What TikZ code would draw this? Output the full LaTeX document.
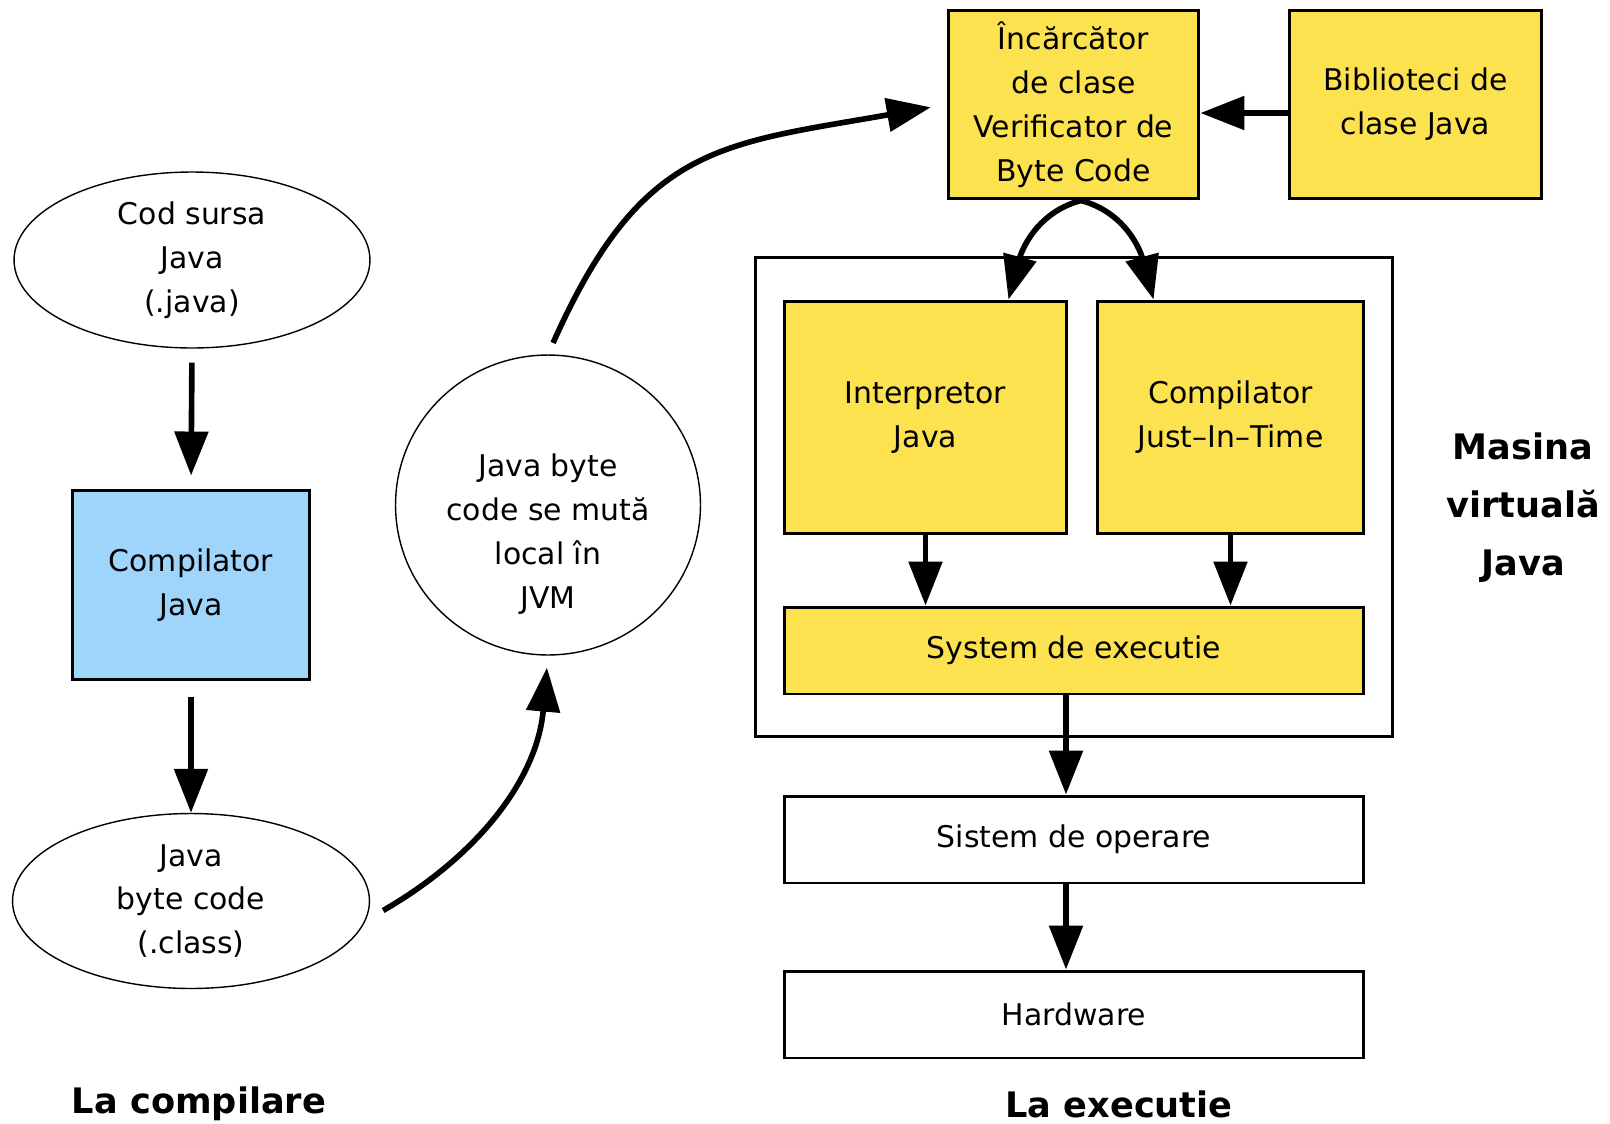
\documentclass[tikz,border=0pt]{standalone}
\usepackage{fontspec}
\setmainfont{DejaVu Sans}
\usetikzlibrary{shapes.geometric,arrows.meta}

\definecolor{vmyellow}{RGB}{253,226,79}
\definecolor{compblue}{RGB}{160,213,251}

\begin{document}
\begin{tikzpicture}[x=0.02cm,y=-0.02cm,font=\fontsize{17}{25}\selectfont]
	\tikzstyle{source file}=[ellipse,draw,line width=0.8pt,inner sep=0pt,align=center]
	\tikzstyle{block}=[rectangle,draw,line width=1.7pt,inner sep=0pt,align=center]
	\tikzstyle{vm block}=[block,fill=vmyellow]
	\tikzstyle{layer}=[block,minimum width=11.6cm,minimum height=1.74cm]
	\tikzstyle{flow}=[-{Triangle[length=0.88cm,width=0.66cm]},line width=3.2pt]
	\tikzstyle{annot}=[font=\fontsize{20}{33}\selectfont\bfseries,align=center]

	\useasboundingbox (0,0) rectangle (1610,1123);

	% Compile time side
	\node[source file,minimum width=7.12cm,minimum height=3.52cm] (src) at (192,260) {Cod sursa\\Java\\(.java)};
	\node[block,fill=compblue,minimum width=4.76cm,minimum height=3.8cm] (javac) at (191,585) {Compilator\\Java};
	\node[source file,minimum width=7.14cm,minimum height=3.5cm] (bytecode) at (191,901) {Java\\byte code\\(.class)};
	\node[source file,minimum width=6.1cm,minimum height=6cm] (jvmload) at (548,505) {};
	\node[align=center] (jvmload-text) at (548,534) {Java byte\\code se mută\\local în\\JVM};

	% Run time side
	\node[vm block,minimum width=5.02cm,minimum height=3.78cm] (loader) at (1073.5,104.5) {Încărcător\\de clase\\Verificator de\\Byte Code};
	\node[vm block,minimum width=5.06cm,minimum height=3.78cm] (libs) at (1415.5,104.5) {Biblioteci de\\clase Java};
	\node[block,minimum width=12.76cm,minimum height=9.6cm] (jvm) at (1074,497) {};
	\node[vm block,minimum width=5.66cm,minimum height=4.66cm] (interp) at (925.5,417.5) {Interpretor\\Java};
	\node[vm block,minimum width=5.34cm,minimum height=4.66cm] (jit) at (1230.5,417.5) {Compilator\\Just--In--Time};
	\node[layer,fill=vmyellow] (runtime) at (1074,650.5) {System de executie};
	\node[layer] (os) at (1074,839.5) {Sistem de operare};
	\node[layer] (hw) at (1074,1014.5) {Hardware};

	% Annotate the two phases and the JVM
	\node[annot] (lbl-compile) at (199,1104) {La compilare};
	\node[annot] (lbl-run) at (1119,1104) {La executie};
	\node[annot] (lbl-jvm) at (1523,508) {Masina\\virtuală\\Java};

	% Compile flow
	\draw[flow,shorten <=0.28cm,shorten >=0.26cm] (src.south) -- (javac.north);
	\draw[flow,shorten <=0.32cm] (javac.south) -- (bytecode.north);
	\draw[flow,shorten <=0.3cm,shorten >=0.24cm] ([yshift=-0.34cm]bytecode.east) to[out=30,in=-95] (jvmload.south);
	\draw[flow,shorten <=0.25cm,shorten >=0.32cm,looseness=1.25] (jvmload.north) to[out=66,in=190] (loader.west);

	% Inside the virtual machine
	\draw[flow] ([yshift=-0.17cm]libs.west) -- ([yshift=-0.17cm]loader.east);
	\draw[flow] ([xshift=0.15cm]loader.south) to[out=195,in=75] ([xshift=-1.2cm]interp.north east);
	\draw[flow] ([xshift=0.15cm]loader.south) to[out=-15,in=105] ([xshift=1.16cm]jit.north west);
	\draw[flow] (interp.south) -- (interp.south |- runtime.north);
	\draw[flow] (jit.south) -- (jit.south |- runtime.north);
	\draw[flow] ([xshift=-0.16cm]runtime.south) -- ([xshift=-0.16cm]os.north);
	\draw[flow] ([xshift=-0.16cm]os.south) -- ([xshift=-0.16cm]hw.north);
\end{tikzpicture}
\end{document}
